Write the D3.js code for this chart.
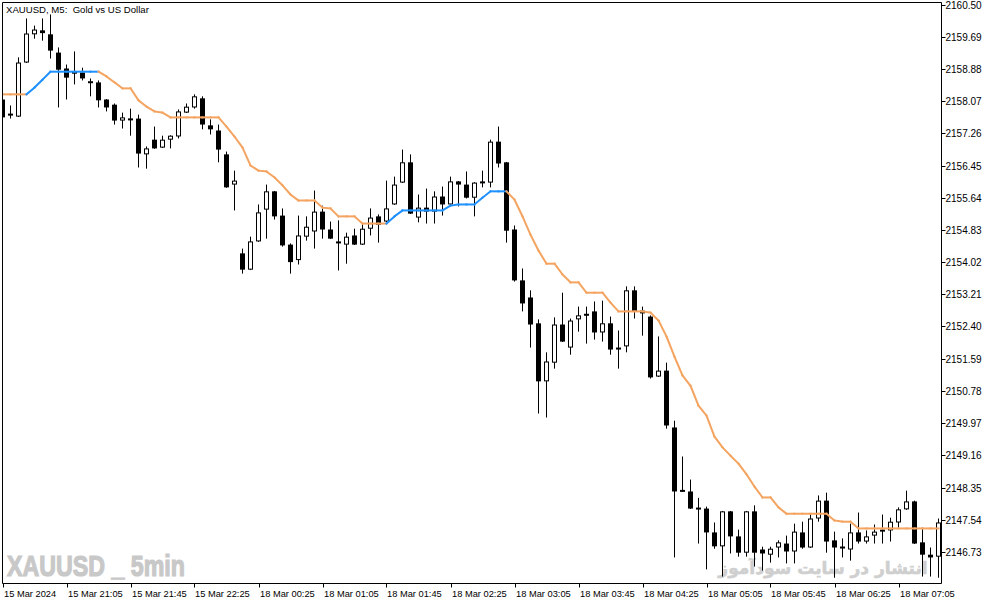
<!DOCTYPE html>
<html><head><meta charset="utf-8">
<script src="https://cdn.jsdelivr.net/npm/d3@7/dist/d3.min.js"></script>
<style>html,body{margin:0;padding:0;background:#fff;overflow:hidden}</style>
</head><body><svg id="c" width="994" height="605"></svg>
<script>
const open = [2158.11,2157.72,2157.68,2159.04,2159.75,2159.85,2159.75,2159.29,2158.89,2158.76,
2158.79,2158.56,2158.54,2158.11,2157.98,2157.58,2157.63,2157.63,2156.73,2157.10,
2156.90,2157.10,2157.18,2157.78,2157.91,2158.14,2157.46,2157.33,2156.73,2155.97,
2154.24,2153.83,2154.54,2155.34,2155.80,2155.19,2154.46,2154.07,2154.66,2154.79,
2155.29,2154.84,2154.53,2154.46,2154.69,2154.46,2154.86,2155.17,2155.04,2155.47,
2156.02,2156.53,2155.14,2155.39,2155.29,2155.67,2155.47,2156.05,2155.97,2155.64,
2156.00,2156.02,2157.05,2156.53,2154.84,2153.56,2153.13,2152.48,2151.02,2151.49,
2152.45,2151.87,2152.58,2152.70,2152.78,2152.25,2152.48,2151.86,2151.90,2153.31,
2152.80,2152.65,2151.14,2151.29,2149.86,2148.27,2148.25,2147.83,2147.82,2147.22,
2146.87,2147.75,2147.12,2146.71,2147.75,2146.79,2146.66,2146.84,2146.94,2146.74,
2147.22,2146.84,2147.57,2148.02,2147.02,2146.85,2146.79,2147.22,2146.99,2147.14,
2147.24,2147.27,2147.47,2147.80,2148.00,2146.97,2146.66,2146.61];
const high = [2158.14,2157.96,2159.17,2160.15,2159.97,2160.15,2160.25,2159.42,2158.99,2159.32,
2158.91,2158.64,2158.59,2158.12,2158.01,2157.78,2157.88,2157.73,2156.93,2157.43,
2157.20,2157.21,2157.86,2158.01,2158.24,2158.19,2157.61,2157.48,2156.80,2156.32,
2154.36,2154.66,2155.47,2155.97,2155.81,2155.37,2154.49,2155.19,2155.17,2155.82,
2155.44,2155.04,2155.07,2154.76,2154.86,2154.99,2155.37,2155.22,2156.07,2156.17,
2156.85,2156.73,2155.72,2155.87,2155.80,2155.92,2156.17,2156.06,2156.30,2156.03,
2156.32,2157.10,2157.43,2156.54,2154.94,2153.86,2153.31,2152.58,2151.75,2152.63,
2153.25,2152.60,2152.90,2152.90,2153.03,2153.05,2152.65,2152.30,2153.41,2153.41,
2152.90,2152.68,2152.15,2151.49,2150.03,2149.13,2148.55,2148.09,2147.87,2147.47,
2147.76,2147.76,2147.29,2147.76,2147.90,2146.86,2146.86,2147.02,2147.14,2147.44,
2147.49,2147.69,2148.15,2148.22,2147.24,2147.07,2147.44,2147.72,2147.27,2147.42,
2147.67,2147.59,2147.85,2148.27,2148.02,2147.34,2146.84,2147.57];
const low = [2157.63,2157.63,2157.67,2159.03,2159.64,2159.59,2159.14,2157.91,2158.11,2158.49,
2158.59,2158.19,2157.91,2157.81,2157.48,2157.38,2157.20,2156.40,2156.37,2156.87,
2156.89,2156.88,2157.13,2157.77,2157.88,2157.36,2157.23,2156.53,2155.89,2155.32,
2153.73,2153.82,2154.53,2154.61,2155.09,2154.41,2153.73,2153.96,2154.56,2154.36,
2154.61,2154.60,2153.81,2153.98,2154.45,2154.45,2154.69,2154.51,2155.02,2155.46,
2156.01,2155.23,2155.02,2154.99,2154.99,2155.19,2155.46,2155.42,2155.62,2155.17,
2155.90,2155.90,2156.40,2154.51,2153.53,2152.78,2151.87,2150.21,2150.11,2151.34,
2152.01,2151.69,2152.27,2151.97,2152.07,2152.02,2151.69,2151.34,2151.75,2152.60,
2152.17,2151.09,2151.13,2149.83,2146.59,2148.24,2147.81,2146.94,2146.29,2146.81,
2146.11,2146.69,2146.61,2146.61,2146.36,2146.26,2146.46,2146.59,2146.44,2146.44,
2146.81,2146.83,2147.49,2146.71,2146.08,2146.59,2146.51,2146.94,2146.94,2146.94,
2146.94,2146.99,2147.34,2147.79,2146.93,2146.11,2146.11,2146.08];
const close = [2157.66,2157.74,2159.04,2159.77,2159.87,2159.78,2159.34,2158.86,2158.66,2158.81,
2158.64,2158.53,2158.09,2157.91,2157.58,2157.66,2157.59,2156.75,2156.88,2156.88,
2157.10,2157.20,2157.81,2157.93,2158.19,2157.48,2157.36,2156.85,2155.90,2156.07,
2153.83,2154.54,2155.27,2155.80,2155.17,2154.44,2154.02,2154.69,2154.91,2155.29,
2154.84,2154.61,2154.50,2154.66,2154.46,2154.86,2155.14,2154.96,2155.37,2155.97,
2156.53,2155.24,2155.39,2155.29,2155.67,2155.47,2156.05,2155.97,2155.64,2156.02,
2156.05,2157.05,2156.50,2154.81,2153.56,2152.98,2152.45,2151.02,2151.52,2152.45,
2152.02,2152.55,2152.68,2152.69,2152.25,2152.48,2151.82,2151.83,2153.31,2152.78,
2152.73,2151.12,2151.29,2149.91,2148.25,2148.26,2147.82,2147.81,2147.22,2146.87,
2147.75,2147.12,2146.71,2147.75,2146.71,2146.69,2146.81,2146.97,2146.74,2147.24,
2146.84,2147.57,2148.02,2146.99,2146.84,2146.83,2147.22,2146.99,2147.12,2147.24,
2147.29,2147.49,2147.80,2148.00,2146.94,2146.66,2146.59,2147.47];
const ma = [2158.24,2158.24,2158.24,2158.24,2158.41,2158.61,2158.81,2158.81,2158.81,2158.81,
2158.81,2158.81,2158.81,2158.69,2158.54,2158.39,2158.39,2158.09,2157.93,2157.81,
2157.78,2157.66,2157.66,2157.66,2157.66,2157.66,2157.66,2157.66,2157.43,2157.18,
2156.90,2156.45,2156.32,2156.30,2156.15,2155.95,2155.72,2155.57,2155.57,2155.57,
2155.39,2155.37,2155.17,2155.17,2155.17,2154.99,2154.99,2154.99,2154.99,2155.17,
2155.32,2155.32,2155.32,2155.32,2155.32,2155.32,2155.44,2155.47,2155.47,2155.47,
2155.64,2155.80,2155.80,2155.80,2155.59,2155.17,2154.71,2154.31,2153.98,2153.98,
2153.71,2153.51,2153.51,2153.25,2153.25,2153.25,2153.00,2152.78,2152.78,2152.78,
2152.78,2152.75,2152.55,2152.15,2151.64,2151.17,2150.91,2150.41,2150.16,2149.63,
2149.36,2149.15,2148.95,2148.68,2148.37,2148.10,2148.10,2147.85,2147.69,2147.69,
2147.69,2147.69,2147.69,2147.69,2147.52,2147.49,2147.49,2147.32,2147.32,2147.32,
2147.32,2147.32,2147.32,2147.32,2147.32,2147.32,2147.32,2147.32];
const priceTicks = [2160.50,2159.69,2158.88,2158.07,2157.26,2156.45,2155.64,2154.83,2154.02,
2153.21,2152.40,2151.59,2150.78,2149.97,2149.16,2148.35,2147.54,2146.73];
const timeTickIndex = [0,8,16,24,32,40,48,56,64,72,80,88,96,104,112];
const timeTickLabels = ["15 Mar 2024","15 Mar 21:05","15 Mar 21:45","15 Mar 22:25","18 Mar 00:25",
"18 Mar 01:05","18 Mar 01:45","18 Mar 02:25","18 Mar 03:05","18 Mar 03:45","18 Mar 04:25",
"18 Mar 05:05","18 Mar 05:45","18 Mar 06:25","18 Mar 07:05"];
const title = "XAUUSD, M5:  Gold vs US Dollar";
const watermark1 = "XAUUSD _ 5min";
const watermark2 = "انتشار در سایت سودآموز";

const svg = d3.select("#c");
const L = 2.5, T = 2.5, R = 941.5, B = 583.5;
const x = d3.scaleLinear().domain([0, open.length - 1]).range([2.5, 938.5]);
const y = d3.scaleLinear().domain([2146.73, 2160.50]).range([551.9, 4.5]);

svg.append("rect").attr("width", 994).attr("height", 605).attr("fill", "#fff");
svg.append("clipPath").attr("id", "clip").append("rect")
  .attr("x", L + 0.5).attr("y", T + 0.5).attr("width", R - L - 1).attr("height", B - T - 1);

// watermarks
svg.append("text").attr("x", 7).attr("y", 576).text(watermark1)
  .attr("font-family", "'Liberation Sans',Arial,sans-serif")
  .attr("font-weight", "bold").attr("font-size", 29).attr("fill", "#c8c8c8")
  .attr("stroke", "#c8c8c8").attr("stroke-width", 1.2)
  .attr("textLength", 178).attr("lengthAdjust", "spacingAndGlyphs");
svg.append("text").attr("x", 823).attr("y", 574).attr("text-anchor", "middle").text(watermark2)
  .attr("font-family", "'DejaVu Sans',sans-serif").attr("direction", "rtl")
  .attr("font-weight", "bold").attr("font-size", 17).attr("fill", "#cfcfcf")
  .attr("stroke", "#cfcfcf").attr("stroke-width", 0.6).attr("letter-spacing", 0.5);

const g = svg.append("g").attr("clip-path", "url(#clip)");
const idx = d3.range(open.length);

// wicks
g.selectAll("line.wick").data(idx).join("line").attr("class", "wick")
  .attr("x1", i => x(i)).attr("x2", i => x(i))
  .attr("y1", i => y(high[i])).attr("y2", i => y(low[i]))
  .attr("stroke", "#000").attr("stroke-width", 1);

// bodies
idx.forEach(i => {
  const top = y(Math.max(open[i], close[i])), bot = y(Math.min(open[i], close[i]));
  const h = Math.max(bot - top, 2);
  const yt = (bot - top < 2) ? (top + bot) / 2 - 1 : top;
  if (close[i] > open[i] && bot - top >= 2) {
    g.append("rect").attr("x", x(i) - 2).attr("y", yt + 0.5).attr("width", 4).attr("height", Math.max(h - 1, 1))
      .attr("fill", "#fff").attr("stroke", "#000").attr("stroke-width", 1);
  } else {
    g.append("rect").attr("x", x(i) - 2.5).attr("y", yt).attr("width", 5).attr("height", h)
      .attr("fill", "#000");
  }
});

// moving average line coloured by direction
let col = "#F4A460";
for (let i = 1; i < ma.length; i++) {
  if (ma[i] > ma[i - 1]) col = "#1E90FF";
  else if (ma[i] < ma[i - 1]) col = "#F4A460";
  g.append("line").attr("x1", x(i - 1)).attr("y1", y(ma[i - 1]))
    .attr("x2", x(i)).attr("y2", y(ma[i])).attr("stroke", col)
    .attr("stroke-width", 2).attr("stroke-linecap", "square");
}

// frame
svg.append("path").attr("d", `M${L},${B}V${T}H${R}V${B}H${L}`)
  .attr("fill", "none").attr("stroke", "#000").attr("stroke-width", 1);

// right axis
const ra = svg.append("g").attr("font-family", "'Liberation Sans',Arial,sans-serif").attr("font-size", 10);
priceTicks.forEach(p => {
  const yy = Math.round(y(p)) + 0.5;
  ra.append("line").attr("x1", R).attr("x2", R + 4).attr("y1", yy).attr("y2", yy).attr("stroke", "#000");
  ra.append("text").attr("x", R + 4).attr("y", yy + 3.5).text(p.toFixed(2)).attr("fill", "#000");
});

// bottom axis
const ba = svg.append("g").attr("font-family", "'Liberation Sans',Arial,sans-serif").attr("font-size", 9.3);
timeTickIndex.forEach((ti, k) => {
  const xx = Math.max(Math.round(x(ti)) + 0.5, L);
  ba.append("line").attr("x1", xx).attr("x2", xx).attr("y1", B).attr("y2", B + 4).attr("stroke", "#000");
  ba.append("text").attr("x", xx + 0.5).attr("y", 597).text(timeTickLabels[k]).attr("fill", "#000");
});

// title
svg.append("text").attr("x", 6).attr("y", 13).text(title).attr("xml:space", "preserve")
  .style("white-space", "pre")
  .attr("font-family", "'Liberation Sans',Arial,sans-serif").attr("font-size", 9.6).attr("fill", "#000");
</script></body></html>
